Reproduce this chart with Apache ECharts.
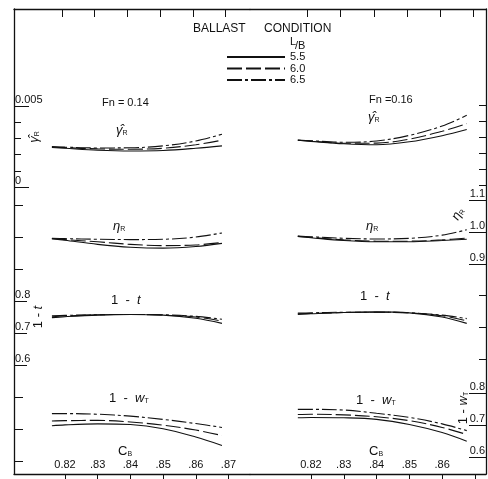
<!DOCTYPE html>
<html>
<head>
<meta charset="utf-8">
<script src="https://cdn.jsdelivr.net/npm/echarts@6/dist/echarts.min.js"></script>
<style>
  html, body { margin: 0; padding: 0; background: #fff; }
  #chart { width: 488px; height: 479px; }
</style>
</head>
<body>
<div id="chart"></div>
<script>
// Block coefficient values at which each curve is plotted
const cbLeft  = [0.816, 0.82, 0.83, 0.84, 0.85, 0.86, 0.868];
const cbRight = [0.816, 0.82, 0.83, 0.84, 0.85, 0.86, 0.8675];

// L/B series names
const lbNames = ['5.5', '6.0', '6.5'];

// Fn = 0.14 : residual resistance coefficient
const rR_14_55 = [0.00245, 0.00240, 0.00228, 0.00223, 0.00226, 0.00240, 0.00255];
const rR_14_60 = [0.00248, 0.00244, 0.00236, 0.00234, 0.00240, 0.00262, 0.00290];
const rR_14_65 = [0.00250, 0.00247, 0.00242, 0.00243, 0.00255, 0.00285, 0.00327];
// Fn = 0.14 : relative rotative efficiency
const etaR_14_55 = [0.980, 0.975, 0.962, 0.953, 0.950, 0.955, 0.965];
const etaR_14_60 = [0.980, 0.977, 0.970, 0.962, 0.958, 0.960, 0.968];
const etaR_14_65 = [0.981, 0.980, 0.978, 0.977, 0.978, 0.985, 0.998];
// Fn = 0.14 : 1 - t
const oneT_14_55 = [0.748, 0.751, 0.756, 0.758, 0.756, 0.746, 0.730];
const oneT_14_60 = [0.751, 0.753, 0.757, 0.758, 0.756, 0.750, 0.737];
const oneT_14_65 = [0.754, 0.755, 0.757, 0.758, 0.757, 0.752, 0.743];
// Fn = 0.14 : 1 - wT
const oneW_14_55 = [0.699, 0.702, 0.705, 0.703, 0.690, 0.664, 0.638];
const oneW_14_60 = [0.714, 0.715, 0.716, 0.711, 0.701, 0.686, 0.669];
const oneW_14_65 = [0.737, 0.737, 0.735, 0.729, 0.719, 0.706, 0.694];

// Fn = 0.16 : residual resistance coefficient
const rR_16_55 = [0.00290, 0.00283, 0.00268, 0.00262, 0.00280, 0.00318, 0.00356];
const rR_16_60 = [0.00290, 0.00285, 0.00271, 0.00272, 0.00297, 0.00345, 0.00393];
const rR_16_65 = [0.00291, 0.00287, 0.00277, 0.00285, 0.00320, 0.00378, 0.00444];
// Fn = 0.16 : relative rotative efficiency
const etaR_16_55 = [0.987, 0.983, 0.974, 0.970, 0.970, 0.974, 0.978];
const etaR_16_60 = [0.987, 0.984, 0.976, 0.972, 0.972, 0.976, 0.982];
const etaR_16_65 = [0.988, 0.986, 0.981, 0.979, 0.981, 0.991, 1.008];
// Fn = 0.16 : 1 - t
const oneT_16_55 = [0.758, 0.760, 0.764, 0.766, 0.763, 0.750, 0.730];
const oneT_16_60 = [0.760, 0.761, 0.764, 0.765, 0.763, 0.754, 0.738];
const oneT_16_65 = [0.762, 0.763, 0.765, 0.765, 0.763, 0.756, 0.745];
// Fn = 0.16 : 1 - wT
const oneW_16_55 = [0.724, 0.725, 0.724, 0.719, 0.703, 0.678, 0.651];
const oneW_16_60 = [0.734, 0.735, 0.733, 0.727, 0.715, 0.694, 0.672];
const oneW_16_65 = [0.750, 0.750, 0.748, 0.738, 0.725, 0.705, 0.684];

// Tick values and tick labels
const cbTicks = [0.82, 0.83, 0.84, 0.85, 0.86, 0.87];
const cbTickText = ['0.82', '.83', '.84', '.85', '.86', '.87'];
const cbRightLabelVals = [0.82, 0.83, 0.84, 0.85, 0.86];
const rRMinorTicks = [0.001, 0.002, 0.003, 0.004];
const rRMajorTicks = [0, 0.005];
const rRMajorText = ['0', '0.005'];
const oneTMinorTicks = [0.3, 0.4, 0.5, 0.9, 1.0, 1.1];
const oneTMajorTicks = [0.6, 0.7, 0.8];
const oneTMajorText = ['0.6', '0.7', '0.8'];
const etaMinorTicks = [0.6, 0.7, 0.8, 1.15, 1.2, 1.25, 1.3, 1.35, 1.4];
const etaMajorTicks = [0.9, 1.0, 1.1];
const etaMajorText = ['0.9', '1.0', '1.1'];
const oneWMajorTicks = [0.6, 0.7, 0.8];
const oneWMajorText = ['0.6', '0.7', '0.8'];

// ---- layout / styling ----
const FONT = '"Liberation Sans", Arial, sans-serif';
const INK = '#111';
const DASH = { '5.5': 'solid', '6.0': [15, 4], '6.5': [15, 3, 3, 3] };

// Shared vertical scales (each quantity spans the full plot height)
const R_RANGE   = [-0.017782, 0.011029];
const ETA_RANGE = [0.23754, 1.70442];
const T_RANGE   = [0.259375, 1.7125];
const W_RANGE   = [0.549379, 1.99348];

function pick(vals, texts) {
  return v => {
    let best = 0;
    for (let i = 1; i < vals.length; i++) {
      if (Math.abs(vals[i] - v) < Math.abs(vals[best] - v)) best = i;
    }
    return texts[best];
  };
}

function xAxisBottom(grid, min, max, labelVals) {
  return {
    type: 'value', gridIndex: grid, position: 'bottom', min, max,
    splitLine: { show: false },
    axisLine: { show: true, onZero: false, lineStyle: { color: INK, width: 1.3 } },
    axisTick: { show: true, inside: false, length: 6, customValues: cbTicks, lineStyle: { color: INK, width: 1 } },
    axisLabel: {
      show: true, inside: true, margin: 4, customValues: labelVals,
      formatter: pick(cbTicks, cbTickText),
      color: INK, fontFamily: FONT, fontSize: 11
    }
  };
}
function xAxisTop(grid, min, max) {
  return {
    type: 'value', gridIndex: grid, position: 'top', min, max,
    splitLine: { show: false },
    axisLine: { show: true, onZero: false, lineStyle: { color: INK, width: 1.3 } },
    axisTick: { show: true, inside: true, length: 8, customValues: cbTicks, lineStyle: { color: INK, width: 1 } },
    axisLabel: { show: false }
  };
}
function yAxis(grid, pos, range, opts) {
  const o = opts || {};
  return {
    type: 'value', gridIndex: grid, position: pos, min: range[0], max: range[1],
    show: o.hidden ? false : true,
    splitLine: { show: false },
    axisLine: { show: !!o.line, onZero: false, lineStyle: { color: INK, width: 1.3 } },
    axisTick: o.ticks ? { show: true, inside: true, length: o.len, customValues: o.ticks, lineStyle: { color: INK, width: 1 } } : { show: false },
    axisLabel: o.labels ? {
      show: true, inside: true, margin: 1, customValues: o.ticks,
      formatter: pick(o.ticks, o.labels),
      verticalAlign: 'bottom', padding: [0, 0, 1, 0],
      color: INK, fontFamily: FONT, fontSize: 11
    } : { show: false }
  };
}

const chart = echarts.init(document.getElementById('chart'), null, { renderer: 'canvas' });

function curve(name, xs, ys, xIdx, yIdx) {
  return {
    type: 'line', name, xAxisIndex: xIdx, yAxisIndex: yIdx,
    data: xs.map((x, i) => [x, ys[i]]),
    smooth: 0.35, symbol: 'none', silent: true,
    lineStyle: { color: INK, width: 1.1, type: DASH[name] },
    itemStyle: { color: INK }
  };
}

const series = [];
// left panel (Fn = 0.14): x axis 0; y axes 0 (rR), 4 (etaR), 2 (1-t), 5 (1-wT)
[[rR_14_55, rR_14_60, rR_14_65, 0], [etaR_14_55, etaR_14_60, etaR_14_65, 4],
 [oneT_14_55, oneT_14_60, oneT_14_65, 2], [oneW_14_55, oneW_14_60, oneW_14_65, 5]].forEach(g => {
  lbNames.forEach((n, k) => series.push(curve(n, cbLeft, g[k], 0, g[3])));
});
// right panel (Fn = 0.16): x axis 2; y axes 9 (rR), 6 (etaR), 10 (1-t), 8 (1-wT)
[[rR_16_55, rR_16_60, rR_16_65, 9], [etaR_16_55, etaR_16_60, etaR_16_65, 6],
 [oneT_16_55, oneT_16_60, oneT_16_65, 10], [oneW_16_55, oneW_16_60, oneW_16_65, 8]].forEach(g => {
  lbNames.forEach((n, k) => series.push(curve(n, cbRight, g[k], 2, g[3])));
});

function txt(x, y, text, size) {
  return { type: 'text', x, y, silent: true,
    style: { text, font: (size || 11) + 'px ' + FONT, fill: INK } };
}
const sub = {
  v: { fontFamily: FONT, fontSize: 13, fontStyle: 'italic', fill: INK, verticalAlign: 'top' },
  n: { fontFamily: FONT, fontSize: 13, fill: INK, verticalAlign: 'top' },
  s: { fontFamily: FONT, fontSize: 7, fill: INK, verticalAlign: 'bottom', padding: [6, 0, 0, 0] }
};
function symText(x, y, text, rot) {
  const el = { type: 'text', x, y, silent: true,
    style: { text, rich: sub, align: rot !== undefined ? 'center' : 'left', verticalAlign: rot !== undefined ? 'middle' : 'top' } };
  if (rot !== undefined) el.rotation = rot;
  return el;
}

const option = {
  animation: false,
  backgroundColor: '#fff',
  grid: [
    { left: 14, top: 9, width: 236, height: 465 },
    { left: 250, top: 9, width: 236, height: 465 }
  ],
  xAxis: [
    xAxisBottom(0, 0.804404, 0.876575, cbTicks),
    xAxisTop(0, 0.805321, 0.877492),
    xAxisBottom(1, 0.801415, 0.873368, cbRightLabelVals),
    xAxisTop(1, 0.802636, 0.873848)
  ],
  yAxis: [
    yAxis(0, 'left', R_RANGE, { line: true, ticks: rRMinorTicks, len: 7 }),
    yAxis(0, 'left', R_RANGE, { ticks: rRMajorTicks, len: 15, labels: rRMajorText }),
    yAxis(0, 'left', T_RANGE, { ticks: oneTMinorTicks, len: 9 }),
    yAxis(0, 'left', T_RANGE, { ticks: oneTMajorTicks, len: 13, labels: oneTMajorText }),
    yAxis(0, 'right', ETA_RANGE, { hidden: true }),
    yAxis(0, 'right', W_RANGE, { hidden: true }),
    yAxis(1, 'right', ETA_RANGE, { line: true, ticks: etaMinorTicks, len: 7 }),
    yAxis(1, 'right', ETA_RANGE, { ticks: etaMajorTicks, len: 17, labels: etaMajorText }),
    yAxis(1, 'right', W_RANGE, { ticks: oneWMajorTicks, len: 17, labels: oneWMajorText }),
    yAxis(1, 'left', R_RANGE, { hidden: true }),
    yAxis(1, 'left', T_RANGE, { hidden: true })
  ],
  legend: {
    data: lbNames, orient: 'vertical', left: 226, top: 51.5, padding: 0,
    itemWidth: 58, itemHeight: 11, itemGap: 0.5, selectedMode: false,
    itemStyle: { opacity: 0 },
    textStyle: { color: INK, fontFamily: FONT, fontSize: 11, padding: [0, 0, 0, 0] }
  },
  graphic: [
    txt(193, 22.5, 'BALLAST', 12),
    txt(264, 22.5, 'CONDITION', 12),
    txt(290, 36, 'L', 11),
    txt(295, 40, '/B', 11),
    txt(102, 97, 'Fn = 0.14'),
    txt(369, 94, 'Fn =0.16'),
    symText(116, 124, '{v|γ̂}{s|R}'),
    symText(368, 111, '{v|γ̂}{s|R}'),
    symText(113, 220, '{v|η}{s|R}'),
    symText(366, 220, '{v|η}{s|R}'),
    symText(111, 294, '{n|1  -  }{v|t}'),
    symText(360, 290, '{n|1  -  }{v|t}'),
    symText(109, 392, '{n|1  -  }{v|w}{s|T}'),
    symText(356, 394, '{n|1  -  }{v|w}{s|T}'),
    symText(118, 445, '{n|C}{s|B}'),
    symText(369, 445, '{n|C}{s|B}'),
    symText(34, 137, '{v|γ̂}{s|R}', Math.PI / 2),
    symText(38, 317, '{n|1 - }{v|t}', Math.PI / 2),
    symText(458, 214, '{v|η}{s|R}', Math.PI / 3),
    symText(463, 408, '{n|1 - }{v|w}{s|T}', Math.PI / 2)
  ],
  series
};
chart.setOption(option);
</script>
</body>
</html>
